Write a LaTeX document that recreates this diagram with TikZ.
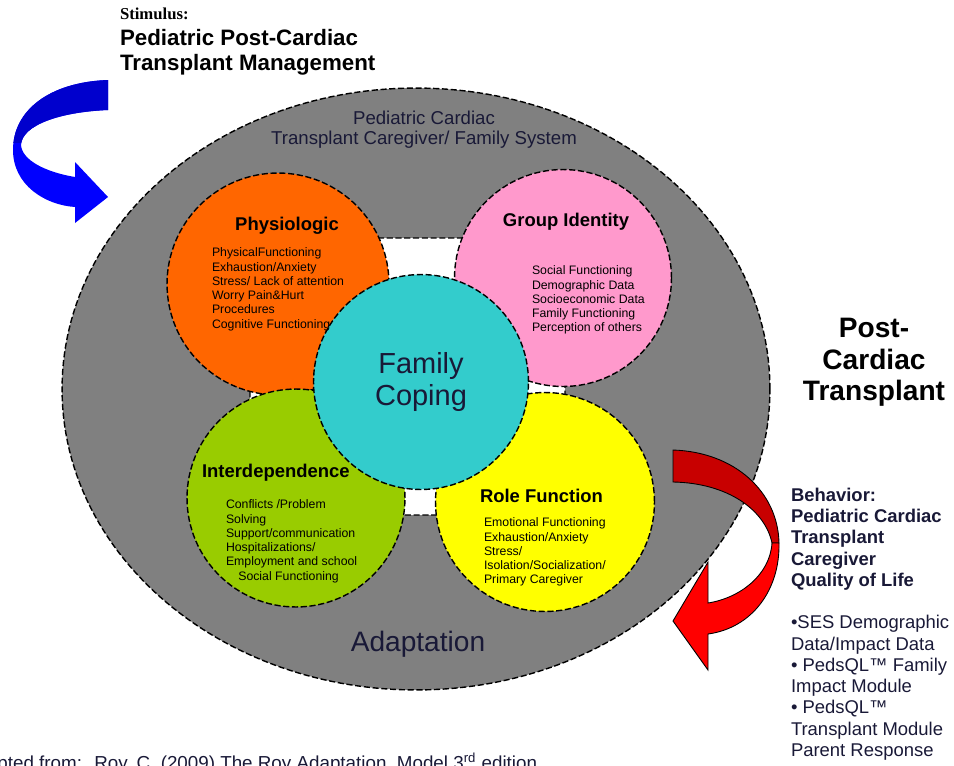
\documentclass[tikz,border=0pt]{standalone}
\usepackage{fontspec}
\setmainfont{Liberation Sans}
\newfontfamily\stimfont{Liberation Serif}
\usepackage{tikz}
\usetikzlibrary{positioning}
\usetikzlibrary{shapes.geometric}

\definecolor{gris}{RGB}{128,128,128}
\definecolor{naranja}{RGB}{255,102,0}
\definecolor{rosa}{RGB}{255,153,204}
\definecolor{verde}{RGB}{153,204,0}
\definecolor{amarillo}{RGB}{255,255,0}
\definecolor{turquesa}{RGB}{51,204,204}
\definecolor{tinta}{RGB}{25,25,55}
\definecolor{azul}{RGB}{0,0,255}
\definecolor{azuloscuro}{RGB}{0,0,205}
\definecolor{rojo}{RGB}{255,0,0}
\definecolor{rojooscuro}{RGB}{200,0,0}

\begin{document}
\begin{tikzpicture}[x=0.02cm, y=-0.02cm,
    every node/.style={inner sep=0pt, outer sep=0pt, text=tinta},
    borde/.style={draw=black, line width=0.8pt, dash pattern=on 3.5pt off 1.5pt},
    esfera/.style={borde, circle, minimum size=#1},
    titulo/.style={font=\fontsize{10.5}{12}\selectfont\bfseries, text=black},
    lista/.style={font=\fontsize{7}{8.1}\selectfont, align=left, anchor=north west, text=black}]

            \clip (0,0) rectangle (954,765);

            % Fondo
            \node[borde, fill=gris, ellipse, minimum width=14.16cm, minimum height=12.04cm] (sistema) at (416,389) {};
            \node[borde, fill=white, rounded corners=8pt, minimum width=6.3cm, minimum height=5.54cm] (hueco) at (407.5,376.5) {};

            % Circulos
            \node[esfera=4.44cm, fill=naranja] (fisio) at (278,284) {};
            \node[esfera=4.34cm, fill=rosa] (grupo) at (563,278) {};
            \node[esfera=4.36cm, fill=verde] (interdep) at (296,498) {};
            \node[esfera=4.38cm, fill=amarillo] (rol) at (545,502) {};
            \node[esfera=4.3cm, fill=turquesa, font=\fontsize{16.5}{18.5}\selectfont, align=center] (afronta) at (421,382) {Family\\Coping};

            % Textos de los circulos
            \node[titulo, anchor=north] (tfisio) at (287,217) {Physiologic};
            \node[lista] (lfisio) at (212,248) {PhysicalFunctioning\\Exhaustion/Anxiety\\Stress/ Lack of attention\\Worry Pain\&Hurt\\Procedures\\Cognitive Functioning};
            \node[titulo, anchor=north] (tgrupo) at (566,213) {Group Identity};
            \node[lista] (lgrupo) at (532,266) {Social Functioning\\Demographic Data\\Socioeconomic Data\\Family Functioning\\Perception of others};
            \node[titulo, anchor=north west] (tinter) at (202,464) {Interdependence};
            \node[lista] (linter) at (226,500) {Conflicts /Problem\\Solving\\Support/communication\\Hospitalizations/\\Employment and school\\\hspace*{1em}Social Functioning};
            \node[titulo, anchor=north west] (trol) at (480,489) {Role Function};
            \node[lista] (lrol) at (484,518) {Emotional Functioning\\Exhaustion/Anxiety\\Stress/\\Isolation/Socialization/\\Primary Caregiver};

            % Textos del sistema
            \node[font=\fontsize{10.6}{11.4}\selectfont, align=center, anchor=north] (lema) at (424,111) {Pediatric Cardiac\\Transplant Caregiver/ Family System};
            \node[font=\fontsize{16}{18}\selectfont, anchor=north] (adapta) at (418,631) {Adaptation};

            % Textos de fuera
            \node[anchor=north west, text=black, font=\stimfont\bfseries\fontsize{9.5}{11}\selectfont] (estimulo) at (120,8) {Stimulus:};
            \node[anchor=north west, align=left, text=black, font=\fontsize{12.7}{14.2}\selectfont\bfseries] (manejo) at (120,29) {Pediatric Post-Cardiac\\Transplant Management};
            \node[anchor=north, align=center, text=black, font=\fontsize{16}{18.1}\selectfont\bfseries] (post) at (874,318) {Post-\\Cardiac\\Transplant};
            \node[anchor=north west, align=left, font=\fontsize{10.5}{12.1}\selectfont] (conducta) at (791,488) {\textbf{Behavior:}\\\textbf{Pediatric Cardiac}\\\textbf{Transplant}\\\textbf{Caregiver}\\\textbf{Quality of Life}\\[12.1pt]•SES Demographic\\Data/Impact Data\\• PedsQL™ Family\\Impact Module\\• PedsQL™\\Transplant Module\\Parent Response};
            \node[anchor=base west, font=\fontsize{10.7}{12}\selectfont] (fuente) at (-36,769) {Adapted from: \ Roy, C. (2009) The Roy Adaptation \ Model 3\textsuperscript{rd} edition};

            % Flechas
            \fill[azul] (108,80) .. controls (50,82) and (13,110) .. (13,150) .. controls (13,185) and (45,205) .. (75,207) -- (75,223) -- (108,197) -- (75,162) -- (75,177) .. controls (45,172) and (22,160) .. (21,145) .. controls (22,125) and (60,112) .. (108,110) -- cycle;
            \begin{scope}
              \clip (0,60) rectangle (120,142);
              \fill[azuloscuro] (108,80) .. controls (50,82) and (13,110) .. (13,150) -- (21,145) .. controls (22,125) and (60,112) .. (108,110) -- cycle;
            \end{scope}
            \filldraw[fill=rojooscuro, draw=black, line width=0.5pt] (673,450) .. controls (735,452) and (778,492) .. (779,543) -- (772,543) .. controls (765,510) and (728,483) .. (673,482) -- cycle;
            \filldraw[fill=rojo, draw=black, line width=0.5pt] (779,543) .. controls (780,590) and (752,628) .. (708,634) -- (708,670) -- (673,621) -- (708,562) -- (708,603) .. controls (740,598) and (770,575) .. (772,543) -- cycle;
          \end{tikzpicture}
\end{document}
